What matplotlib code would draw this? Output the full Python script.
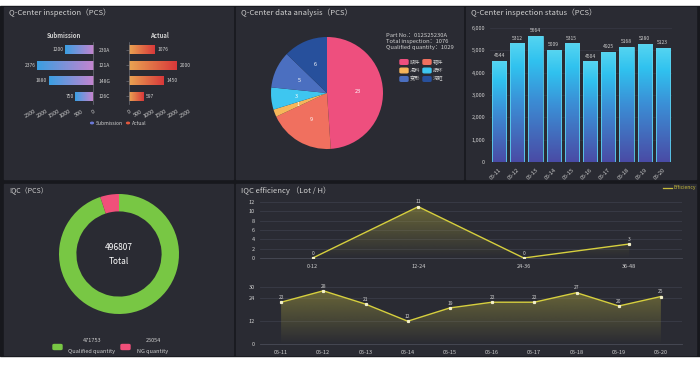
import numpy as np
import matplotlib.pyplot as plt
import matplotlib.colors as mcolors
from matplotlib.patches import Rectangle, FancyBboxPatch, Circle
from matplotlib.colors import LinearSegmentedColormap

plt.rcParams['font.family'] = ['Noto Sans CJK SC', 'DejaVu Sans']

# ---- data ----
parts = ['230A', '121A', '148G', '126C']
submission = [1200, 2376, 1880, 750]
actual = [1076, 2000, 1450, 597]

defect_names = ['缺件', '错件', '混料', '损坏', '变形', '污脏']
defect_counts = [23, 9, 1, 3, 5, 6]
defect_colors = ['#ee4f7e', '#f0705f', '#f7b65a', '#3ec6f0', '#4b6fc0', '#27509c']

days = ['05-11', '05-12', '05-13', '05-14', '05-15', '05-16', '05-17', '05-18', '05-19', '05-20']
inspected = [4544, 5312, 5664, 5009, 5315, 4504, 4925, 5168, 5280, 5123]

iqc_labels = ['Qualified quantity', 'NG quantity']
iqc_values = [471753, 25054]
iqc_colors = ['#78c744', '#f0507a']

shifts = ['0-12', '12-24', '24-36', '36-48']
shift_eff = [0, 11, 0, 3]
daily_eff = [22, 28, 21, 12, 19, 22, 22, 27, 20, 25]

# ---- layout helpers (pixel coords) ----
W, H = 700, 366
fig = plt.figure(figsize=(7, 3.66), dpi=100)
fig.patch.set_facecolor('white')

def frac(x0, y0, x1, y1):
    return [x0 / W, 1 - y1 / H, (x1 - x0) / W, (y1 - y0) / H]

def px(x, y):
    return x / W, 1 - y / H

PANEL = '#2a2b33'
TXT = '#d0d0d0'

fig.patches.append(Rectangle(px(0, 356), 1, (356 - 6) / H, transform=fig.transFigure,
                             color='#17181d', zorder=-2))
for x0, y0, x1, y1 in [(4, 7, 233, 179), (236, 7, 463, 179), (466, 7, 696, 179),
                       (4, 184, 233, 355), (236, 184, 696, 355)]:
    fig.patches.append(Rectangle(px(x0, y1), (x1 - x0) / W, (y1 - y0) / H,
                                 transform=fig.transFigure, color=PANEL, zorder=-1))

def ftext(x, y, s, **kw):
    kw.setdefault('color', TXT)
    kw.setdefault('fontsize', 5.5)
    fig.text(*px(x, y), s, **kw)

def clean(ax):
    ax.set_facecolor('none')
    for sp in ax.spines.values():
        sp.set_visible(False)
    ax.tick_params(colors=TXT, labelsize=4, length=0)

def grad_image(ax, extent, cmap, vertical, clip):
    g = np.linspace(0, 1, 256)
    arr = g[:, None] if vertical else g[None, :]
    im = ax.imshow(arr, extent=extent, cmap=cmap, aspect='auto', origin='lower',
                   interpolation='bilinear', zorder=2)
    im.set_clip_path(clip)
    return im

# ---- panel 1: Q-Center inspection ----
ftext(9, 13, 'Q-Center inspection（PCS）', va='center')
cm_sub = LinearSegmentedColormap.from_list('s', ['#3a9fe2', '#c684cf'])
cm_act = LinearSegmentedColormap.from_list('a', ['#eaa452', '#d8383a'])
ypos = np.arange(len(parts))

ax_s = fig.add_axes(frac(34, 42, 93, 104))
clean(ax_s)
bars = ax_s.barh(ypos, submission, height=0.56, color='none')
for b, v in zip(bars, submission):
    bb = b.get_bbox()
    grad_image(ax_s, [v, 0, bb.y0, bb.y1], cm_sub, False, b)
    ax_s.text(v + 60, b.get_y() + b.get_height() / 2, str(v), color=TXT, fontsize=3.6,
              ha='right', va='center')
ax_s.set_xlim(2500, 0)
ax_s.set_ylim(3.5, -0.5)
ax_s.set_xticks([2500, 2000, 1500, 1000, 500, 0])
ax_s.set_xticklabels(['2500', '2000', '1500', '1000', '500', '0'], rotation=30,
                     ha='right', rotation_mode='anchor')
ax_s.yaxis.tick_right()
ax_s.set_yticks(ypos)
ax_s.set_yticklabels(parts, fontsize=3.6)
ax_s.tick_params(axis='y', pad=4)
ax_s.spines['right'].set_visible(True)
ax_s.spines['right'].set_color('#6a6c76')
ax_s.spines['right'].set_linewidth(0.5)
ax_s.set_title('Submission', color=TXT, fontsize=4.3, fontweight='bold', pad=3)

ax_a = fig.add_axes(frac(129, 42, 189, 104))
clean(ax_a)
bars = ax_a.barh(ypos, actual, height=0.56, color='none')
for b, v in zip(bars, actual):
    bb = b.get_bbox()
    grad_image(ax_a, [0, v, bb.y0, bb.y1], cm_act, False, b)
    ax_a.text(v + 120, b.get_y() + b.get_height() / 2, str(v), color=TXT, fontsize=3.6,
              ha='left', va='center')
ax_a.set_xlim(0, 2500)
ax_a.set_ylim(3.5, -0.5)
ax_a.set_xticks([0, 500, 1000, 1500, 2000, 2500])
ax_a.set_xticklabels(['0', '500', '1000', '1500', '2000', '2500'], rotation=30,
                     ha='right', rotation_mode='anchor')
ax_a.set_yticks(ypos)
ax_a.set_yticklabels([])
ax_a.tick_params(axis='y', length=2, color='#6a6c76', width=0.5)
ax_a.spines['left'].set_visible(True)
ax_a.spines['left'].set_color('#6a6c76')
ax_a.spines['left'].set_linewidth(0.5)
ax_a.set_title('Actual', color=TXT, fontsize=4.3, fontweight='bold', pad=3)

fig.patches.append(Circle(px(92, 123), 1.4 / W, transform=fig.transFigure, color='#6b78d6'))
ftext(96, 123, 'Submission', fontsize=3.6, va='center')
fig.patches.append(Circle(px(128, 123), 1.4 / W, transform=fig.transFigure, color='#e2583e'))
ftext(132, 123, 'Actual', fontsize=3.6, va='center')

# ---- panel 2: data analysis pie ----
ftext(241, 13, 'Q-Center data analysis（PCS）', va='center')
ax_p = fig.add_axes(frac(271, 37, 383, 149))
ax_p.pie(defect_counts, colors=defect_colors, startangle=90, counterclock=False,
         labels=[str(v) for v in defect_counts], labeldistance=0.55,
         textprops=dict(color='white', fontsize=4, ha='center', va='center'))
ax_p.set_xlim(-1, 1)
ax_p.set_ylim(-1, 1)
ax_p.set_aspect('equal')
ax_p.axis('off')

ftext(386, 35.5, 'Part No.：012S25230A', fontsize=4.2, va='center')
ftext(386, 41.5, 'Total inspection：1076', fontsize=4.2, va='center')
ftext(386, 47.5, 'Qualified quantity：1029', fontsize=4.2, va='center')
for i, (name, col) in enumerate(zip(defect_names, defect_colors)):
    cx = 400 if i % 2 == 0 else 423
    cy = 62 + (i // 2) * 8.5
    fig.patches.append(FancyBboxPatch(px(cx, cy + 2.3), 8 / W, 4.6 / H,
                                      boxstyle='round,pad=0,rounding_size=0.002',
                                      transform=fig.transFigure, color=col))
    ftext(cx + 10, cy, name, fontsize=3.8, va='center')

# ---- panel 3: inspection status ----
ftext(471, 13, 'Q-Center inspection status（PCS）', va='center')
cm_bar = LinearSegmentedColormap.from_list('b', [(0, '#4a4ba5'), (0.5, '#3b8fd6'),
                                                 (0.8, '#30c2ef'), (1, '#56d5f1')])
ax_b = fig.add_axes(frac(490, 28, 672, 162))
clean(ax_b)
xs = np.arange(len(days))
bars = ax_b.bar(xs, inspected, width=0.78, color='none', edgecolor='#5cd3ee', linewidth=0.6,
                zorder=3)
for b, v in zip(bars, inspected):
    bb = b.get_bbox()
    grad_image(ax_b, [bb.x0, bb.x1, 0, v], cm_bar, True, b)
    ax_b.text(b.get_x() + b.get_width() / 2, v + 120, str(v), color=TXT, fontsize=3.6,
              ha='center', va='bottom')
ax_b.set_xlim(-0.5, len(days) - 0.5)
ax_b.set_ylim(0, 6000)
ax_b.set_yticks(range(0, 6001, 1000))
ax_b.set_yticklabels([f'{v:,}' for v in range(0, 6001, 1000)])
ax_b.set_xticks(xs)
ax_b.set_xticklabels(days, rotation=45, ha='right', rotation_mode='anchor')
ax_b.grid(axis='y', color='#373945', linewidth=0.5)
ax_b.set_axisbelow(True)

# ---- panel 4: IQC donut ----
ftext(9, 191, 'IQC（PCS）', fontsize=5, va='center')
ax_d = fig.add_axes(frac(59, 194, 179, 314))
ax_d.pie(iqc_values, colors=iqc_colors, startangle=90, counterclock=False,
         wedgeprops=dict(width=0.29, linewidth=0))
ax_d.set_xlim(-1, 1)
ax_d.set_ylim(-1, 1)
ax_d.set_aspect('equal')
ax_d.axis('off')
ftext(119, 247, str(sum(iqc_values)), fontsize=6, color='white', ha='center', va='center',
      style='italic')
ftext(119, 261, 'Total', fontsize=6, color='white', ha='center', va='center')
for (lx, tx), lab, val, col in zip([(53, 92), (121, 153)], iqc_labels, iqc_values, iqc_colors):
    fig.patches.append(FancyBboxPatch(px(lx, 349.5), 9 / W, 5 / H,
                                      boxstyle='round,pad=0,rounding_size=0.002',
                                      transform=fig.transFigure, color=col))
    ftext(tx, 341, str(val), fontsize=4, ha='center', va='center')
    ftext(tx, 352, lab, fontsize=4, ha='center', va='center')

# ---- panel 5: IQC efficiency ----
ftext(241, 191, 'IQC efficiency （Lot / H）', va='center')
fig.add_artist(plt.Line2D([fx / W for fx in (663, 672)], [1 - 188 / H] * 2,
                          color='#c9bd3c', linewidth=0.9))
ftext(674, 188, 'Efficiency', fontsize=3.6, color='#c9bd3c', va='center')

LINE = '#d6cf3e'
fill_cm = LinearSegmentedColormap.from_list(
    'f', [mcolors.to_rgba('#b8b040', 0.0), mcolors.to_rgba('#b8b040', 0.45)])

def eff_axes(rect, cats, vals, ymax, yticks):
    ax = fig.add_axes(frac(*rect))
    clean(ax)
    x = np.arange(len(cats))
    poly = ax.fill_between(x, vals, 0, color='none')
    im = ax.imshow(np.linspace(0, 1, 256)[:, None], extent=[x[0], x[-1], 0, max(vals)],
                   cmap=fill_cm, aspect='auto', origin='lower', zorder=1)
    im.set_clip_path(poly.get_paths()[0], transform=ax.transData)
    ax.plot(x, vals, color=LINE, linewidth=1, zorder=3)
    ax.plot(x, vals, 's', color='#f2efc8', markersize=1.3, zorder=4)
    for xi, v in zip(x, vals):
        ax.text(xi, v + ymax * 0.04, str(v), color=TXT, fontsize=3.6, ha='center', va='bottom')
    ax.set_xlim(-0.5, len(cats) - 0.5)
    ax.set_ylim(0, ymax)
    ax.set_yticks(yticks)
    ax.set_xticks(x)
    ax.set_xticklabels(cats)
    ax.tick_params(axis='x', pad=4)
    ax.grid(axis='y', color='#3a3c48', linewidth=0.6)
    ax.set_axisbelow(True)
    ax.spines['bottom'].set_visible(True)
    ax.spines['bottom'].set_color('#4a4c58')
    ax.spines['bottom'].set_linewidth(0.6)
    return ax

eff_axes((260, 202, 682, 258), shifts, shift_eff, 12, range(0, 13, 2))
eff_axes((260, 287, 682, 344), days, daily_eff, 30, [0, 12, 24, 30])

fig.savefig('out.png', dpi=100, facecolor=fig.get_facecolor())
